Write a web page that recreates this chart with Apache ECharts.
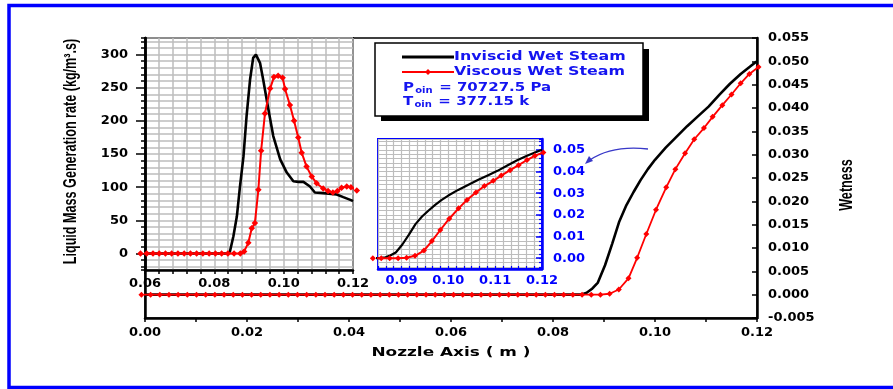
<!DOCTYPE html>
<html>
<head>
<meta charset="utf-8">
<script src="https://cdn.jsdelivr.net/npm/echarts@6/dist/echarts.min.js"></script>
<style>
  html, body { margin: 0; padding: 0; background: #fff; }
  #chart { width: 893px; height: 389px; }
</style>
</head>
<body>
<div id="chart"></div>
<script>
// Wetness along the nozzle axis (main chart and zoomed inset)
const wetInviscidX = [0, 0.0855, 0.0866, 0.0876, 0.0888, 0.0902, 0.0916, 0.0930, 0.0944, 0.0958, 0.0972, 0.0986,
  0.1000, 0.1021, 0.1042, 0.1063, 0.1084, 0.1105, 0.1126, 0.1147, 0.1168, 0.1189, 0.1200];
const wetInviscidY = [0, 0, 0.0004, 0.0012, 0.0026, 0.0063, 0.0109, 0.0157, 0.0192, 0.0220, 0.0246, 0.0269,
  0.0289, 0.0315, 0.0338, 0.0361, 0.0382, 0.0403, 0.0428, 0.0452, 0.0473, 0.0491, 0.0500];

const wetViscousX = [-0.0007, 0.0011, 0.0029, 0.0047, 0.0065, 0.0083, 0.0101, 0.0119, 0.0137, 0.0155,
  0.0173, 0.0191, 0.0209, 0.0227, 0.0245, 0.0263, 0.0281, 0.0299, 0.0317, 0.0335,
  0.0353, 0.0371, 0.0389, 0.0407, 0.0425, 0.0443, 0.0461, 0.0479, 0.0497, 0.0515,
  0.0533, 0.0551, 0.0569, 0.0587, 0.0605, 0.0623, 0.0641, 0.0659, 0.0677, 0.0695,
  0.0713, 0.0731, 0.0749, 0.0767, 0.0785, 0.0803, 0.0821, 0.0839, 0.0857, 0.0875, 0.0893,
  0.0911, 0.0929, 0.0948, 0.0965, 0.0983, 0.1002, 0.1022, 0.1040, 0.1059, 0.1077,
  0.1096, 0.1113, 0.1132, 0.1150, 0.1168, 0.1185, 0.1203];
const wetViscousY = [0, 0, 0, 0, 0, 0, 0, 0, 0, 0,
  0, 0, 0, 0, 0, 0, 0, 0, 0, 0,
  0, 0, 0, 0, 0, 0, 0, 0, 0, 0,
  0, 0, 0, 0, 0, 0, 0, 0, 0, 0,
  0, 0, 0, 0, 0, 0, 0, 0, 0, 0, 0,
  0.0002, 0.0011, 0.0035, 0.0079, 0.0130, 0.0182, 0.0230, 0.0269, 0.0303, 0.0333,
  0.0357, 0.0381, 0.0406, 0.0429, 0.0453, 0.0473, 0.0488];

// Liquid mass generation rate (upper-left inset)
const genInviscidX = [0.0600, 0.0838, 0.0845, 0.0855, 0.0865, 0.0874, 0.0884, 0.0893, 0.0903, 0.0912, 0.0920,
  0.0932, 0.0941, 0.0956, 0.0970, 0.0990, 0.1009, 0.1028, 0.1043, 0.1057, 0.1076, 0.1090, 0.1115,
  0.1153, 0.1172, 0.1196, 0.1200];
const genInviscidY = [0, 0, 3, 26, 56, 101, 146, 207, 262, 295, 300,
  287, 262, 217, 177, 142, 122, 109, 108, 108, 101, 92, 91,
  89, 85, 80, 79];

const genViscousX = [0.0587, 0.0605, 0.0623, 0.0641, 0.0659, 0.0677, 0.0695, 0.0713, 0.0731, 0.0749,
  0.0767, 0.0785, 0.0803, 0.0821, 0.0839, 0.0857, 0.0875,
  0.0886, 0.0898, 0.0908, 0.0917, 0.0927, 0.0935, 0.0946, 0.0961, 0.0972, 0.0984, 0.0997,
  0.1004, 0.1018, 0.1030, 0.1042, 0.1052, 0.1066, 0.1081, 0.1095, 0.1114, 0.1128, 0.1142,
  0.1155, 0.1167, 0.1182, 0.1194, 0.1211];
const genViscousY = [0, 0, 0, 0, 0, 0, 0, 0, 0, 0,
  0, 0, 0, 0, 0, 0, 0,
  3, 16, 38, 46, 96, 155, 211, 249, 266, 268, 265,
  248, 224, 200, 175, 152, 131, 116, 106, 98, 94, 92,
  94, 99, 101, 100, 95];

// Tick labels
const mainXLabels = [0, 0.02, 0.04, 0.06, 0.08, 0.10, 0.12];
const wetLabels = [-0.005, 0, 0.005, 0.010, 0.015, 0.020, 0.025, 0.030, 0.035, 0.040, 0.045, 0.050, 0.055];
const genXLabels = [0.06, 0.08, 0.10, 0.12];
const genYLabels = [0, 50, 100, 150, 200, 250, 300];
const zoomXLabels = [0.09, 0.10, 0.11, 0.12];
const zoomYLabels = [0, 0.01, 0.02, 0.03, 0.04, 0.05];

const FONT = 'DejaVu Sans';
const BLUE = '#0000ff';
const LEGEND_BLUE = '#1414f0';
const GRIDLINE = '#bdbdbd';

function pairs(xs, ys) { return xs.map((x, i) => [x, ys[i]]); }
function pick(list, digits) {
  return function (v) {
    if (!list.some(t => Math.abs(t - v) < 1e-7)) return '';
    if (Math.abs(v) < 1e-12) v = 0;
    return v.toFixed(digits);
  };
}
function labelStyle(color) {
  return { color: color, fontFamily: FONT, fontWeight: 'bold', fontSize: 13 };
}

const chart = echarts.init(document.getElementById('chart'));

const option = {
  animation: false,
  backgroundColor: '#fff',
  grid: [
    { left: 145, right: 136, top: 38, bottom: 71, show: true, borderColor: '#000', borderWidth: 1.5,
      backgroundColor: 'transparent', outerBoundsMode: 'none', containLabel: false },
    { left: 145, right: 540, top: 38, bottom: 119, show: true, borderColor: '#000', borderWidth: 1.8,
      backgroundColor: '#fff', outerBoundsMode: 'none', containLabel: false },
    { left: 378, right: 351, top: 139, bottom: 120, show: true, borderColor: BLUE, borderWidth: 2,
      backgroundColor: '#fff', outerBoundsMode: 'none', containLabel: false }
  ],
  xAxis: [
    { gridIndex: 0, type: 'value', min: 0, max: 0.12, interval: 0.01,
      axisLine: { show: true, onZero: false, lineStyle: { color: '#000', width: 2.5 } },
      axisTick: { show: true, inside: false, length: 4, lineStyle: { color: '#000', width: 1.5 } },
      axisLabel: Object.assign({ show: true, margin: 8, formatter: pick(mainXLabels, 2),
        showMinLabel: true, showMaxLabel: true, hideOverlap: false }, labelStyle('#000')),
      splitLine: { show: false } },
    { gridIndex: 1, type: 'value', min: 0.06, max: 0.12, interval: 0.004,
      axisLine: { show: true, onZero: false, lineStyle: { color: '#000', width: 2.5 } },
      axisTick: { show: true, inside: false, length: 4, lineStyle: { color: '#000', width: 1.5 } },
      axisLabel: Object.assign({ show: true, margin: 7, formatter: pick(genXLabels, 2),
        showMinLabel: true, showMaxLabel: true, hideOverlap: false }, labelStyle('#000')),
      splitLine: { show: true, lineStyle: { color: GRIDLINE, width: 1.5 } } },
    { gridIndex: 2, type: 'value', min: 0.085, max: 0.12, interval: 0.01 / 6,
      axisLine: { show: true, onZero: false, lineStyle: { color: BLUE, width: 2.5 } },
      axisTick: { show: true, inside: true, length: 3, lineStyle: { color: BLUE, width: 1.2 } },
      axisLabel: Object.assign({ show: true, margin: 5, formatter: pick(zoomXLabels, 2),
        showMinLabel: true, showMaxLabel: true, hideOverlap: false }, labelStyle(BLUE)),
      splitLine: { show: true, lineStyle: { color: GRIDLINE, width: 1.2 } } }
  ],
  yAxis: [
    { gridIndex: 0, type: 'value', position: 'right', min: -0.005, max: 0.055, interval: 0.005,
      axisLine: { show: true, onZero: false, lineStyle: { color: '#000', width: 2.5 } },
      axisTick: { show: true, inside: true, length: 5, lineStyle: { color: '#000', width: 1.5 } },
      axisLabel: Object.assign({ show: true, margin: 11, formatter: pick(wetLabels, 3),
        showMinLabel: true, showMaxLabel: true, hideOverlap: false }, labelStyle('#000')),
      splitLine: { show: false } },
    { gridIndex: 0, type: 'value', position: 'left', min: -0.005, max: 0.055,
      axisLine: { show: true, onZero: false, lineStyle: { color: '#000', width: 2.5 } },
      axisTick: { show: false }, axisLabel: { show: false }, splitLine: { show: false } },
    // fine grid and minor ticks of the generation-rate inset
    { gridIndex: 1, type: 'value', position: 'left', min: -25, max: 325, splitNumber: 35,
      axisLine: { show: true, onZero: false, lineStyle: { color: '#000', width: 2.5 } },
      axisTick: { show: true, inside: false, length: 4, lineStyle: { color: '#000', width: 1.5 } },
      axisLabel: { show: false },
      splitLine: { show: true, lineStyle: { color: GRIDLINE, width: 1.5 } } },
    // labelled major ticks of the generation-rate inset
    { gridIndex: 1, type: 'value', position: 'left', min: -25, max: 325, splitNumber: 7,
      axisLine: { show: false, onZero: false },
      axisTick: { show: true, inside: false, length: 9, customValues: genYLabels,
        lineStyle: { color: '#000', width: 1.5 } },
      axisLabel: Object.assign({ show: true, margin: 17, customValues: genYLabels,
        formatter: pick(genYLabels, 0), hideOverlap: false }, labelStyle('#000')),
      splitLine: { show: false } },
    // fine grid and minor ticks of the wetness inset
    { gridIndex: 2, type: 'value', position: 'right', min: -0.005, max: 0.055, splitNumber: 30,
      axisLine: { show: true, onZero: false, lineStyle: { color: BLUE, width: 2.5 } },
      axisTick: { show: true, inside: true, length: 3, lineStyle: { color: BLUE, width: 1.2 } },
      axisLabel: { show: false },
      splitLine: { show: true, lineStyle: { color: GRIDLINE, width: 1.2 } } },
    // labelled major ticks of the wetness inset
    { gridIndex: 2, type: 'value', position: 'right', min: -0.005, max: 0.055, splitNumber: 6,
      axisLine: { show: false, onZero: false },
      axisTick: { show: true, inside: true, length: 6, customValues: zoomYLabels,
        lineStyle: { color: BLUE, width: 1.5 } },
      axisLabel: Object.assign({ show: true, margin: 11, customValues: zoomYLabels,
        formatter: pick(zoomYLabels, 2), hideOverlap: false }, labelStyle(BLUE)),
      splitLine: { show: false } }
  ],
  series: [
    { name: 'Inviscid Wet Steam', type: 'line', xAxisIndex: 0, yAxisIndex: 0,
      data: pairs(wetInviscidX, wetInviscidY), symbol: 'none', clip: false, z: 3,
      lineStyle: { color: '#000', width: 2.6 }, itemStyle: { color: '#000' } },
    { name: 'Viscous Wet Steam', type: 'line', xAxisIndex: 0, yAxisIndex: 0,
      data: pairs(wetViscousX, wetViscousY), symbol: 'diamond', symbolSize: 6, clip: false, z: 4,
      lineStyle: { color: '#ff0000', width: 1.8 }, itemStyle: { color: '#ff0000' } },
    { name: 'Inviscid Wet Steam', type: 'line', xAxisIndex: 1, yAxisIndex: 2,
      data: pairs(genInviscidX, genInviscidY), symbol: 'none', clip: false, z: 3,
      lineStyle: { color: '#000', width: 2.6 }, itemStyle: { color: '#000' } },
    { name: 'Viscous Wet Steam', type: 'line', xAxisIndex: 1, yAxisIndex: 2,
      data: pairs(genViscousX, genViscousY), symbol: 'diamond', symbolSize: 6.5, clip: false, z: 4,
      lineStyle: { color: '#ff0000', width: 2 }, itemStyle: { color: '#ff0000' } },
    { name: 'Inviscid Wet Steam', type: 'line', xAxisIndex: 2, yAxisIndex: 4,
      data: pairs(wetInviscidX, wetInviscidY), symbol: 'none', clip: true, z: 3,
      lineStyle: { color: '#000', width: 2.2 }, itemStyle: { color: '#000' } },
    { name: 'Viscous Wet Steam', type: 'line', xAxisIndex: 2, yAxisIndex: 4,
      data: pairs(wetViscousX, wetViscousY).filter(p => p[0] >= 0.0835),
      symbol: 'diamond', symbolSize: 6, clip: false, z: 4,
      lineStyle: { color: '#ff0000', width: 2 }, itemStyle: { color: '#ff0000' } }
  ],
  graphic: [
    // outer frame
    { type: 'rect', z: 100, silent: true, shape: { x: 9, y: 5.5, width: 900, height: 382 },
      style: { fill: 'none', stroke: BLUE, lineWidth: 3.5 } },
    // axis titles
    { type: 'text', z: 100, x: 71, y: 151.5, rotation: Math.PI / 2, scaleX: 0.7,
      style: { text: 'Liquid Mass Generation rate (kg/m³.s)', font: 'bold 18px "Liberation Sans"',
        fill: '#000', align: 'center', verticalAlign: 'middle', textAlign: 'center', textVerticalAlign: 'middle' } },
    { type: 'text', z: 100, x: 847, y: 185, rotation: Math.PI / 2, scaleX: 0.7,
      style: { text: 'Wetness', font: 'bold 18px "Liberation Sans"',
        fill: '#000', align: 'center', verticalAlign: 'middle', textAlign: 'center', textVerticalAlign: 'middle' } },
    { type: 'text', z: 100, x: 451, y: 353, scaleX: 1.3,
      style: { text: 'Nozzle Axis ( m )', font: 'bold 13px "DejaVu Sans"',
        fill: '#000', align: 'center', verticalAlign: 'middle', textAlign: 'center', textVerticalAlign: 'middle' } },
    // legend box with drop shadow
    { type: 'rect', z: 100, shape: { x: 381, y: 49, width: 268, height: 72 }, style: { fill: '#000' } },
    { type: 'rect', z: 101, shape: { x: 375, y: 43, width: 268, height: 73 },
      style: { fill: '#fff', stroke: '#000', lineWidth: 1.5 } },
    { type: 'line', z: 102, shape: { x1: 402, y1: 57, x2: 454, y2: 57 }, style: { stroke: '#000', lineWidth: 3 } },
    { type: 'line', z: 102, shape: { x1: 402, y1: 72, x2: 454, y2: 72 }, style: { stroke: '#ff0000', lineWidth: 2 } },
    { type: 'polygon', z: 103, shape: { points: [[428, 69], [431, 72], [428, 75], [425, 72]] }, style: { fill: '#ff0000' } },
    { type: 'text', z: 102, x: 454, y: 57, scaleX: 1.32,
      style: { text: 'Inviscid Wet Steam', font: 'bold 12px "DejaVu Sans"', fill: LEGEND_BLUE,
        align: 'left', verticalAlign: 'middle', textAlign: 'left', textVerticalAlign: 'middle' } },
    { type: 'text', z: 102, x: 454, y: 72, scaleX: 1.32,
      style: { text: 'Viscous Wet Steam', font: 'bold 12px "DejaVu Sans"', fill: LEGEND_BLUE,
        align: 'left', verticalAlign: 'middle', textAlign: 'left', textVerticalAlign: 'middle' } },
    { type: 'text', z: 102, x: 403, y: 88, scaleX: 1.25,
      style: { text: '{m|P}{s|oin}{m| = 70727.5 Pa}', align: 'left', verticalAlign: 'middle',
        textAlign: 'left', textVerticalAlign: 'middle',
        rich: {
          m: { font: 'bold 12px "DejaVu Sans"', fill: LEGEND_BLUE, color: LEGEND_BLUE },
          s: { font: 'bold 8px "DejaVu Sans"', fill: LEGEND_BLUE, color: LEGEND_BLUE, padding: [6, 1, 0, 1] }
        } } },
    { type: 'text', z: 102, x: 403, y: 102, scaleX: 1.25,
      style: { text: '{m|T}{s|oin}{m| = 377.15 k}', align: 'left', verticalAlign: 'middle',
        textAlign: 'left', textVerticalAlign: 'middle',
        rich: {
          m: { font: 'bold 12px "DejaVu Sans"', fill: LEGEND_BLUE, color: LEGEND_BLUE },
          s: { font: 'bold 8px "DejaVu Sans"', fill: LEGEND_BLUE, color: LEGEND_BLUE, padding: [6, 1, 0, 1] }
        } } },
    // pointer from the inset to the main curve
    { type: 'bezierCurve', z: 100, shape: { x1: 648, y1: 149, cpx1: 612, cpy1: 145, x2: 590, y2: 160 },
      style: { fill: 'none', stroke: '#3838c8', lineWidth: 1.3 } },
    { type: 'polygon', z: 100, shape: { points: [[585, 164], [593, 161], [589, 156]] },
      style: { fill: '#3838c8' } }
  ]
};

chart.setOption(option);
</script>
</body>
</html>
